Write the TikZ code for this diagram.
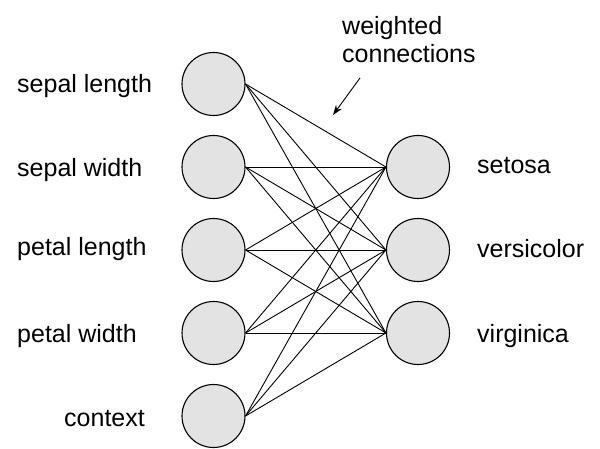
\documentclass[tikz,border=0pt]{standalone}
\usepackage{fontspec}
\setmainfont{Liberation Sans}
\usetikzlibrary{arrows.meta}
\tikzset{
	unit/.style = {circle, draw, line width=1.1pt, fill=gray!22, minimum size=63pt, inner sep=0pt},
	lbl/.style = {anchor=base west, inner sep=0pt, font=\fontsize{25}{28}\selectfont},
	weight/.style = {line width=0.9pt}
}
\begin{document}
\begin{tikzpicture}[x=1pt, y=-1pt]
	\useasboundingbox (0,0) rectangle (600,449);
	% input units
	\foreach \n/\y in {1/84, 2/167, 3/250, 4/333, 5/416}
		\node [unit] (in\n) at (213.5,\y) {};
	% output units
	\foreach \n/\y in {1/167, 2/250, 3/333}
		\node [unit] (out\n) at (418,\y) {};
	% connections
	\foreach \i in {1,...,5}
		\foreach \j in {1,2,3}
			\draw [weight] (in\i.east) -- (out\j.west);
	\node [lbl] (sl) at (17,93) {sepal length};
	\node [lbl] (sw) at (17,177) {sepal width};
	\node [lbl] (pl) at (17,256) {petal length};
	\node [lbl] (pw) at (17,342) {petal width};
	\node [lbl] (ctx) at (64,426) {context};
	\node [lbl] (set) at (477,174) {setosa};
	\node [lbl] (ver) at (477,258) {versicolor};
	\node [lbl] (vir) at (477,342) {virginica};
	\node [lbl] (wt) at (342,35) {weighted};
	\node [lbl] (wc) at (342,63) {connections};
	\coordinate (arrs) at (360,78);
	\coordinate (arre) at (333,115);
	\draw [line width=0.9pt, -{Stealth[length=10pt, width=7pt]}] (arrs) -- (arre);
\end{tikzpicture}
\end{document}
